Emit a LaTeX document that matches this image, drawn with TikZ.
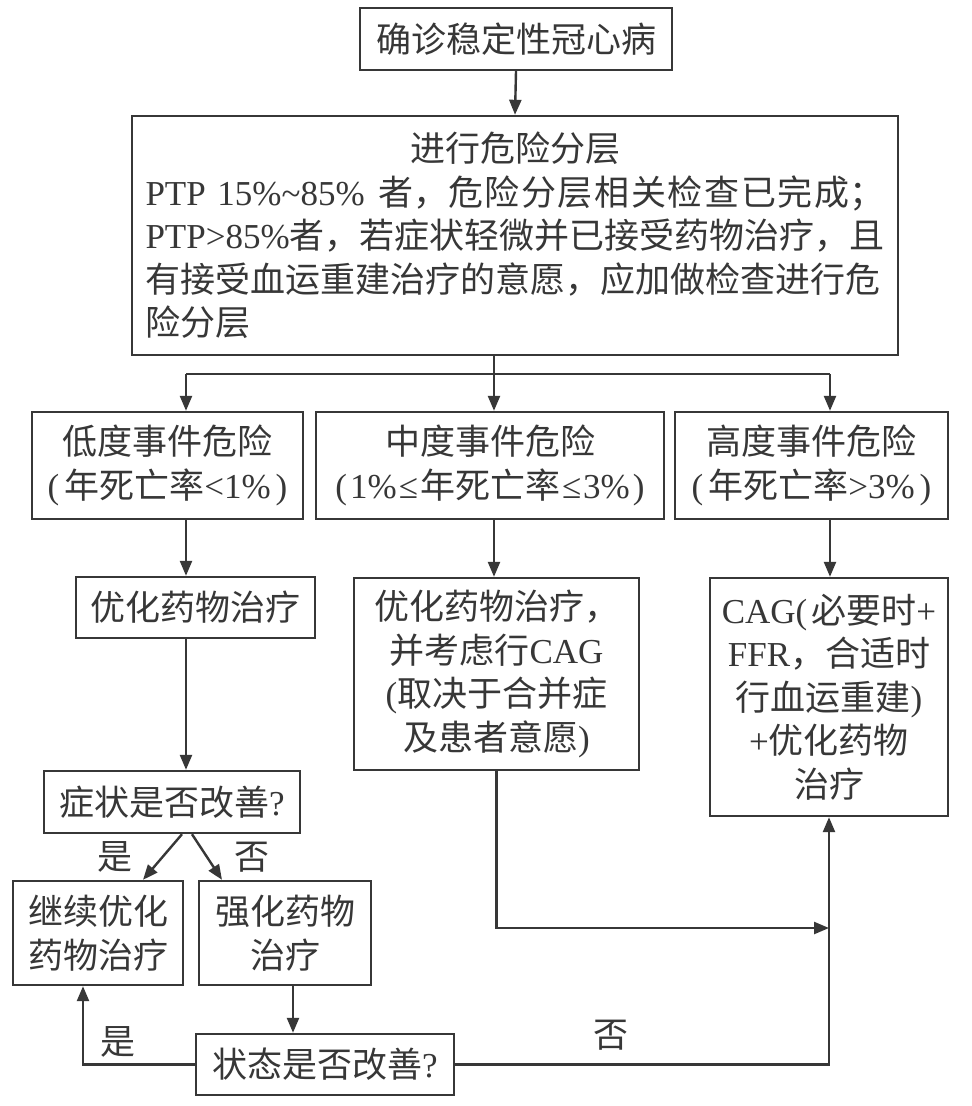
\documentclass[tikz,border=0pt]{standalone}
\usepackage{fontspec}
\setmainfont{Liberation Serif}
\newfontfamily\cjk{Noto Sans CJK SC}
\usetikzlibrary{arrows.meta,calc}
\definecolor{ink}{RGB}{55,55,55}
\newcommand\lat[1]{{\rmfamily #1}}
\begin{document}
\begin{tikzpicture}[x=1pt,y=-1pt,
  box/.style={draw=ink,line width=2.4pt,inner sep=0pt,align=center,text=ink,
              font=\fontsize{35}{43.5}\cjk},
  arr/.style={draw=ink,line width=2.4pt,-{Triangle[length=15pt,width=12pt]}},
  ln/.style={draw=ink,line width=2.4pt},
  lbl/.style={text=ink,inner sep=0pt,font=\fontsize{35}{43.5}\cjk}]
\useasboundingbox[fill=white] (0,0) rectangle (972,1106);

% boxes
\node[box,minimum width=312pt,minimum height=62pt] (top) at (516,39) {确诊稳定性冠心病};
\node[box,minimum width=766pt,minimum height=239pt,text width=739pt,align=left] (main) at (515,235.5)
 {\makebox[739pt]{进行危险分层}\\
  \makebox[739pt][s]{\lat{PTP 15\%\char"7E 85\% }\hfil 者，危\hfil 险\hfil 分\hfil 层\hfil 相\hfil 关\hfil 检\hfil 查\hfil 已\hfil 完\hfil 成；}\\
  \lat{PTP>85\%}者，若症状轻微并已接受药物治疗，且\\
  有接受血运重建治疗的意愿，应加做检查进行危\\
  险分层};
\node[box,minimum width=271pt,minimum height=107pt] (low) at (167.5,465.5)
 {低度事件危险\\\lat{(}\hspace{5pt}年死亡率\lat{<1\%}\hspace{5pt}\lat{)}};
\node[box,minimum width=348pt,minimum height=107pt] (mid) at (490,465.5)
 {中度事件危险\\\lat{(}\hspace{3pt}\lat{1\%}\hspace{2pt}\lat{≤}\hspace{2pt}年死亡率\hspace{2pt}\lat{≤}\hspace{2pt}\lat{3\%}\hspace{3pt}\lat{)}};
\node[box,minimum width=273pt,minimum height=107pt] (high) at (811.5,465.5)
 {高度事件危险\\\lat{(}\hspace{5pt}年死亡率\lat{>3\%}\hspace{5pt}\lat{)}};
\node[box,minimum width=239pt,minimum height=61pt] (opt) at (195.5,607.5) {优化药物治疗};
\node[box,minimum width=285pt,minimum height=192pt] (mid2) at (496.5,674)
 {优化药物治疗，\\并考虑行\lat{CAG}\\\lat{(}取决于合并症\\及患者意愿\lat{)}};
\node[box,minimum width=238pt,minimum height=238pt] (high2) at (829,697)
 {\lat{CAG(}\hspace{4pt}必要时\lat{+}\\\lat{FFR}，合适时\\行血运重建\lat{)}\\\lat{+}优化药物\\治疗};
\node[box,minimum width=256pt,minimum height=62pt] (sym) at (172,802) {症状是否改善\lat{?}};
\node[box,minimum width=170pt,minimum height=104pt] (cont) at (98,933) {继续优化\\药物治疗};
\node[box,minimum width=172pt,minimum height=104pt] (inten) at (285,933) {强化药物\\治疗};
\node[box,minimum width=258pt,minimum height=61pt] (state) at (325,1064.5) {状态是否改善\lat{?}};

% labels
\node[lbl] (y1) at (115,857) {是};
\node[lbl] (n1) at (252,857) {否};
\node[lbl] (y2) at (118,1042) {是};
\node[lbl] (n2) at (611,1035) {否};

% junctions
\coordinate (cL) at (186,374);
\coordinate (cM) at (494,374);
\coordinate (cR) at (830,374);
\coordinate (jR) at (829,928);

% connectors
\draw[arr] (top.south) -- (main.north);
\draw[ln] (main.south -| cM) -- (cM);
\draw[ln] (cL) -- (cR);
\draw[arr] (cL) -- (low.north -| cL);
\draw[arr] (cM) -- (mid.north -| cM);
\draw[arr] (cR) -- (high.north -| cR);
\draw[arr] (low.south -| cL) -- (opt.north -| cL);
\draw[arr] (mid.south -| cM) -- (mid2.north -| cM);
\draw[arr] (high.south -| cR) -- (high2.north -| cR);
\draw[arr] (opt.south -| cL) -- (sym.north -| cL);
\draw[arr] ($(sym.south)+(10,0)$) -- ($(cont.north)+(45,0)$);
\draw[arr] ($(sym.south)+(20,0)$) -- ($(inten.north)+(-63,0)$);
\draw[arr] ($(inten.south)+(8,0)$) -- ($(inten.south |- state.north)+(8,0)$);
\draw[arr] (state.west) -| ($(cont.south)+(-15,0)$);
\draw[arr] (state.east) -| (high2.south);
\draw[arr] (mid2.south) |- (jR);
\end{tikzpicture}
\end{document}
